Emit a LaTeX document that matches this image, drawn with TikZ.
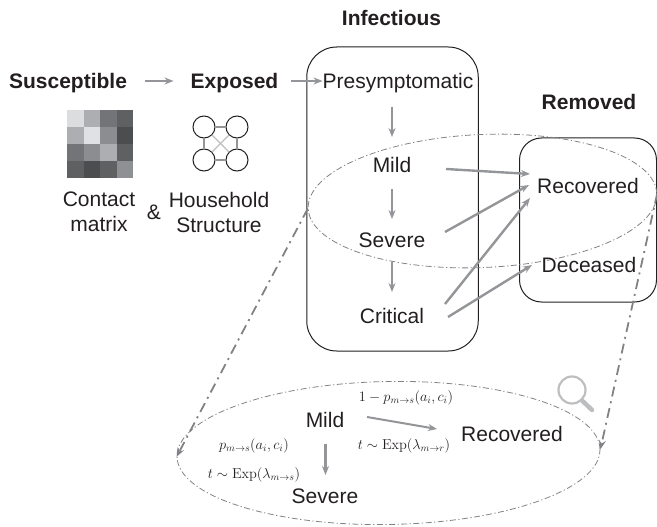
\documentclass[tikz,border=0pt]{standalone}
\usepackage{amsmath}
\usepackage[no-math]{fontspec}
\setmainfont{Liberation Sans}
\usetikzlibrary{shapes.geometric,arrows.meta}
\definecolor{ink}{HTML}{231F20}
\definecolor{flowgray}{HTML}{939598}
\definecolor{dashgray}{HTML}{808285}
\definecolor{lensgray}{HTML}{BCBEC0}
\tikzset{
  x=1pt,y=-1pt,
  lbl/.style={text=ink,inner sep=0pt,font=\fontsize{21}{24}\selectfont,text height=15pt,text depth=0pt,anchor=center},
  two/.style={text=ink,inner sep=0pt,font=\fontsize{21}{25}\selectfont,align=center,anchor=center},
  head/.style={lbl,font=\bfseries\fontsize{21}{24}\selectfont},
  mathlbl/.style={text=ink,inner sep=0pt,font=\fontsize{14.7}{17}\selectfont,anchor=center},
  flow/.style={draw=flowgray,line width=2.4pt,-{Stealth[length=9pt,width=7pt,inset=3pt]}},
  box/.style={draw=ink,line width=1pt,fill=none,inner sep=0pt,rectangle},
  lens/.style={draw=dashgray,ellipse,line width=.8pt,inner sep=0pt,dash pattern=on 6pt off 2.5pt on 1.2pt off 2.5pt},
  zoomline/.style={draw=dashgray,line width=1.8pt,dash pattern=on 10pt off 5pt on 2pt off 5pt,-{Stealth[length=9pt,width=7pt,inset=3pt]}},
  cell/.style={inner sep=0pt,minimum width=16.7pt,minimum height=17.1pt,anchor=center},
  hh/.style={circle,draw=ink,line width=1pt,minimum size=22pt,inner sep=0pt},
  hhedge/.style={draw=flowgray,line width=1.7pt},
  hhcross/.style={draw=lensgray,line width=1.1pt}
}
\begin{document}
\begin{tikzpicture}
\useasboundingbox (0,0) rectangle (657,527);
% boxes and lenses
\node[box,minimum width=171.5pt,minimum height=304pt,rounded corners=30pt] (infbox) at (392.5,199) {};
\node[box,minimum width=137pt,minimum height=164pt,rounded corners=22pt] (rembox) at (588,220) {};
\node[lens,rotate=2.5,minimum width=349pt,minimum height=133pt] (lenstop) at (482.5,201) {};
\node[lens,rotate=1,minimum width=423pt,minimum height=143pt] (lensbig) at (388.5,453) {};
\draw[zoomline] (lenstop.west) -- (lensbig.west);
\draw[zoomline] (lenstop.east) -- (lensbig.east);
% headings
\node[head] (sus) at (68,81) {Susceptible};
\node[head] (exp) at (234.5,81) {Exposed};
\node[head] (inf) at (391.5,18) {Infectious};
\node[head] (rem) at (589,102) {Removed};
% states
\node[lbl] (pre) at (398,81) {Presymptomatic};
\node[lbl] (mild) at (392,165) {Mild};
\node[lbl] (sev) at (392,240) {Severe};
\node[lbl] (cri) at (392,316) {Critical};
\node[lbl] (rec) at (588,186) {Recovered};
\node[lbl] (dec) at (589,265) {Deceased};
\draw[flow,shorten <=18pt,shorten >=17pt] (sus.east) -- (exp.west);
\draw[flow,shorten <=13pt] (exp.east) -- (pre.west);
\draw[flow] ([shift={(-6,26)}]pre.center) -- ([shift={(0,-28)}]mild.center);
\draw[flow,shorten <=24pt,shorten >=21pt] (mild.center) -- (sev.center);
\draw[flow,shorten <=22pt,shorten >=24pt] (sev.center) -- (cri.center);
\draw[flow] ([shift={(54,4)}]mild.center) -- ([shift={(-58,-12)}]rec.center);
\draw[flow] ([shift={(53,-8)}]sev.center) -- ([shift={(-59,-1)}]rec.center);
\draw[flow] ([shift={(53,-12)}]cri.center) -- ([shift={(-58,12)}]rec.center);
\draw[flow] ([shift={(56,1)}]cri.center) -- ([shift={(-57,0)}]dec.center);
% contact matrix
\foreach \r/\y/\cols in {1/118.5/{DCDDDF,ADAEB1,727477,5F6062},2/135.6/{ADAEB1,E0E1E3,8B8D90,4C4D4F},3/152.7/{727477,8B8D90,ADAEB1,5F6062},4/169.8/{5F6062,4C4D4F,5F6062,8F9093}}{
  \foreach \c [count=\i] in \cols {
    \definecolor{cellc}{HTML}{\c}
    \node[cell,fill=cellc] (m\r\i) at ({75.3+(\i-1)*16.6},\y) {};
  }
}
% household
\node[hh] (h1) at (204,127) {};
\node[hh] (h2) at (237,127) {};
\node[hh] (h3) at (204,160) {};
\node[hh] (h4) at (237,160) {};
\draw[hhedge] (h1) -- (h2);
\draw[hhedge] (h3) -- (h4);
\draw[hhedge] (h1) -- (h3);
\draw[hhedge,line width=1.1pt] (h2) -- (h4);
\draw[hhcross] (h1) -- (h4);
\draw[hhcross] (h2) -- (h3);
\node[two] (cm) at (99,212) {Contact\\matrix};
\node[two] (amp) at (154,212) {\&};
\node[two] (hs) at (219,212) {Household\\Structure};
% detail
\node[lbl] (mild2) at (325,420) {Mild};
\node[lbl] (rec2) at (512,434) {Recovered};
\node[lbl] (sev2) at (325,496) {Severe};
\draw[flow,line width=2pt] ([shift={(42,-3)}]mild2.center) -- ([shift={(-75,-5)}]rec2.center);
\draw[flow] ([shift={(0.5,24)}]mild2.center) -- ([shift={(0.5,-21)}]sev2.center);
\node[mathlbl] (t1) at (406,398) {$1-p_{m\rightarrow s}(a_i,c_i)$};
\node[mathlbl] (t2) at (404,446) {$t\sim\mathrm{Exp}(\lambda_{m\rightarrow r})$};
\node[mathlbl] (t3) at (254,446) {$p_{m\rightarrow s}(a_i,c_i)$};
\node[mathlbl] (t4) at (254,475) {$t\sim\mathrm{Exp}(\lambda_{m\rightarrow s})$};
% magnifier
\draw[lensgray,line width=2.2pt] (572,390) circle (13.5);
\draw[lensgray,line width=4.5pt,line cap=round] (582,400.5) -- (592,410);
\end{tikzpicture}
\end{document}
